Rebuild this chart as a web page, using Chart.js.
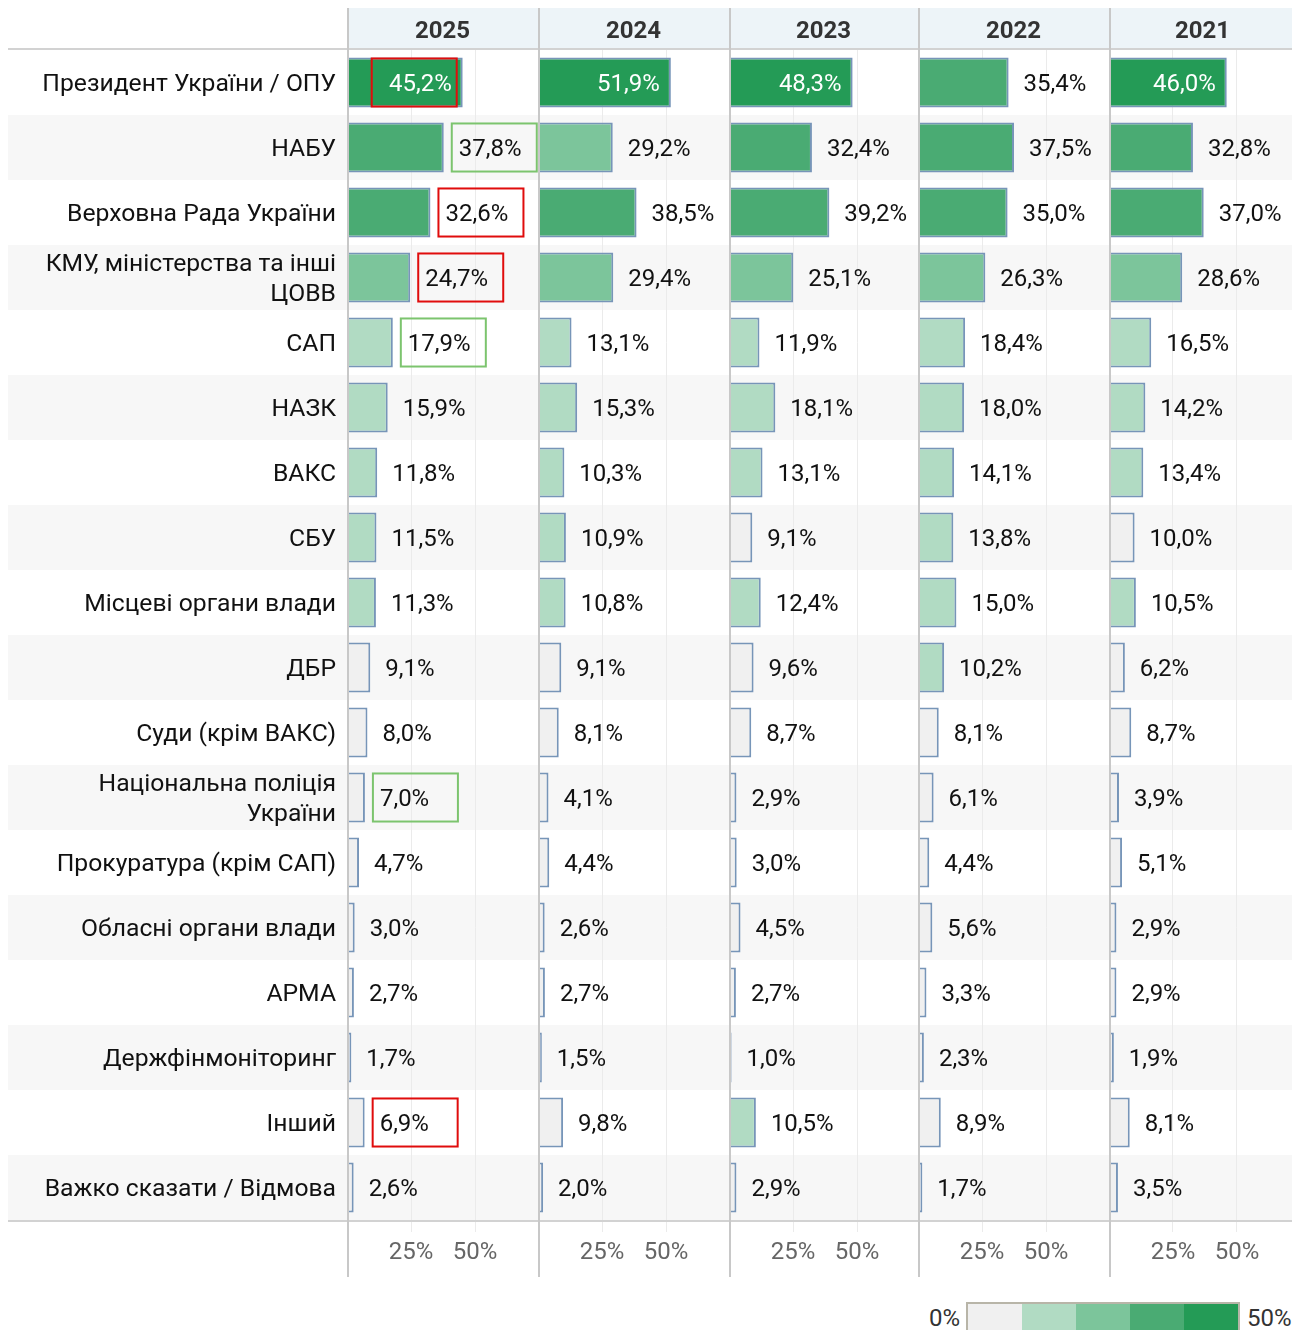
<!DOCTYPE html>
<html>
<head>
  <meta charset="utf-8">
  <title>Довіра до органів влади</title>
  <style>
    body {
      margin: 0;
      background: #fff;
      font-family: Roboto, "Noto Sans", sans-serif;
    }
    #wrap {
      position: relative;
      width: 1292px;
      height: 1330px;
      overflow: hidden;
    }
    .panel {
      position: absolute;
      top: 0;
    }
    .legend-text {
      position: absolute;
      font-size: 24px;
      color: #333;
      line-height: 30px;
    }
    #legendBar {
      position: absolute;
      left: 966px;
      top: 1302px;
      height: 40px;
      display: flex;
      border: 2px solid #b8b5a8;
    }
    #legendBar div {
      width: 54px;
      height: 100%;
    }
  </style>
  <script src="https://cdn.jsdelivr.net/npm/chart.js"></script>
</head>
<body>
  <div id="wrap">
    <div class="panel" style="left:0px"><canvas id="c0" width="538" height="1280"></canvas></div>
    <div class="panel" style="left:538px"><canvas id="c1" width="191" height="1280"></canvas></div>
    <div class="panel" style="left:729px"><canvas id="c2" width="189" height="1280"></canvas></div>
    <div class="panel" style="left:918px"><canvas id="c3" width="191" height="1280"></canvas></div>
    <div class="panel" style="left:1109px"><canvas id="c4" width="187" height="1280"></canvas></div>
    <div class="legend-text" id="legendMin" style="left:900px; width:60px; text-align:right; top:1303px;"></div>
    <div id="legendBar"></div>
    <div class="legend-text" id="legendMax" style="left:1247px; top:1303px;"></div>
  </div>

  <script>
    // Categories (rows)
    var categories = [
      'Президент України / ОПУ',
      'НАБУ',
      'Верховна Рада України',
      ['КМУ, міністерства та інші', 'ЦОВВ'],
      'САП',
      'НАЗК',
      'ВАКС',
      'СБУ',
      'Місцеві органи влади',
      'ДБР',
      'Суди (крім ВАКС)',
      ['Національна поліція', 'України'],
      'Прокуратура (крім САП)',
      'Обласні органи влади',
      'АРМА',
      'Держфінмоніторинг',
      'Інший',
      'Важко сказати / Відмова'
    ];

    var years = ['2025', '2024', '2023', '2022', '2021'];

    // Values in %, one array per year
    var values2025 = [45.2, 37.8, 32.6, 24.7, 17.9, 15.9, 11.8, 11.5, 11.3, 9.1, 8.0, 7.0, 4.7, 3.0, 2.7, 1.7, 6.9, 2.6];
    var values2024 = [51.9, 29.2, 38.5, 29.4, 13.1, 15.3, 10.3, 10.9, 10.8, 9.1, 8.1, 4.1, 4.4, 2.6, 2.7, 1.5, 9.8, 2.0];
    var values2023 = [48.3, 32.4, 39.2, 25.1, 11.9, 18.1, 13.1, 9.1, 12.4, 9.6, 8.7, 2.9, 3.0, 4.5, 2.7, 1.0, 10.5, 2.9];
    var values2022 = [35.4, 37.5, 35.0, 26.3, 18.4, 18.0, 14.1, 13.8, 15.0, 10.2, 8.1, 6.1, 4.4, 5.6, 3.3, 2.3, 8.9, 1.7];
    var values2021 = [46.0, 32.8, 37.0, 28.6, 16.5, 14.2, 13.4, 10.0, 10.5, 6.2, 8.7, 3.9, 5.1, 2.9, 2.9, 1.9, 8.1, 3.5];

    // Highlighted labels in 2025 (row indexes)
    var redBoxes2025 = [0, 2, 3, 16];
    var greenBoxes2025 = [1, 4, 11];

    // x axis ticks (%)
    var xTicks = [0, 25, 50];

    // Colour scale
    var legendLabels = ['0%', '50%'];
    var binLimits = [10, 20, 30, 40];
    var binColors = ['#f0f0f0', '#b1dbc3', '#7cc59b', '#4aab73', '#249b56'];

    Chart.defaults.font.family = 'Roboto, "Noto Sans", sans-serif';

    function colorFor(v) {
      for (var i = 0; i < binLimits.length; i++) {
        if (v <= binLimits[i]) return binColors[i];
      }
      return binColors[binColors.length - 1];
    }

    function fmt(v) {
      return v.toFixed(1).replace('.', ',') + '%';
    }

    var PX_PER_PCT = 2.56;

    // Draws stripes, header, value labels, boxes and separators.
    var panelDecor = {
      id: 'panelDecor',
      beforeDraw: function(chart, args, opts) {
        var ctx = chart.ctx, a = chart.chartArea;
        var x0 = opts.first ? 8 : 0;
        var n = categories.length;
        var rowH = (a.bottom - a.top) / n;
        ctx.save();
        ctx.fillStyle = '#f7f7f7';
        for (var i = 1; i < n; i += 2) {
          var yc = chart.scales.y.getPixelForValue(i);
          ctx.fillRect(x0, yc - rowH / 2, chart.width - x0, rowH);
        }
        // header
        ctx.fillStyle = '#edf4f8';
        ctx.fillRect(a.left, 8, a.right - a.left, 41);
        ctx.fillStyle = '#333';
        ctx.font = 'bold 24px Roboto, sans-serif';
        ctx.textAlign = 'center';
        ctx.textBaseline = 'middle';
        ctx.fillText(opts.title, (a.left + a.right) / 2, 32);
        ctx.restore();
      },
      afterDatasetsDraw: function(chart, args, opts) {
        var ctx = chart.ctx, a = chart.chartArea;
        var x0 = opts.first ? 8 : 0;
        var meta = chart.getDatasetMeta(0);
        var vals = chart.data.datasets[0].data;
        ctx.save();
        ctx.font = '24px Roboto, sans-serif';
        ctx.textBaseline = 'middle';
        meta.data.forEach(function(bar, i) {
          var v = vals[i];
          var top = bar.y - bar.height / 2;
          var boxL, inside = v >= 40;
          if (inside) {
            ctx.fillStyle = '#fff';
            ctx.textAlign = 'right';
            ctx.fillText(fmt(v), bar.x - 11, bar.y + 2);
            boxL = bar.x - 6 - 85;
          } else {
            ctx.fillStyle = '#111';
            ctx.textAlign = 'left';
            ctx.fillText(fmt(v), bar.x + 15, bar.y + 2);
            boxL = bar.x + 8;
          }
          var col = null;
          if (opts.red.indexOf(i) >= 0) col = '#e00c0c';
          if (opts.green.indexOf(i) >= 0) col = '#7cc46e';
          if (col) {
            ctx.strokeStyle = col;
            ctx.lineWidth = 2;
            ctx.strokeRect(boxL, top + 1, 85, bar.height - 2);
          }
        });
        // header and bottom lines
        ctx.strokeStyle = '#d2d2d2';
        ctx.lineWidth = 2;
        ctx.beginPath();
        ctx.moveTo(x0, 49);
        ctx.lineTo(chart.width, 49);
        ctx.moveTo(x0, a.bottom + 1);
        ctx.lineTo(chart.width, a.bottom + 1);
        ctx.stroke();
        // panel separator
        ctx.strokeStyle = '#c8c8c8';
        ctx.beginPath();
        ctx.moveTo(a.left + 1, 8);
        ctx.lineTo(a.left + 1, 1277);
        ctx.stroke();
        ctx.restore();
      }
    };

    function makePanel(canvasId, year, values, first, red, green) {
      var canvas = document.getElementById(canvasId);
      var plotW = first ? canvas.width - 347 : canvas.width;
      var yScale = {
        display: first,
        border: { display: false },
        grid: { display: false, drawTicks: false },
        ticks: {
          autoSkip: false,
          padding: 11,
          labelOffset: 2,
          color: '#111',
          font: { size: 24.7, lineHeight: 1.22 }
        }
      };
      if (first) {
        yScale.afterFit = function(scale) { scale.width = 347; };
      }
      return new Chart(canvas.getContext('2d'), {
        type: 'bar',
        data: {
          labels: categories,
          datasets: [{
            data: values,
            backgroundColor: values.map(colorFor),
            borderColor: '#7795b8',
            borderWidth: 2,
            barPercentage: 0.77,
            categoryPercentage: 1
          }]
        },
        options: {
          indexAxis: 'y',
          responsive: false,
          animation: false,
          layout: { padding: { top: 50, left: 0, right: 0, bottom: 0 } },
          plugins: {
            legend: { display: false },
            tooltip: { enabled: false },
            panelDecor: { title: year, first: first, red: red, green: green }
          },
          scales: {
            x: {
              min: 0,
              max: plotW / PX_PER_PCT,
              border: { display: false },
              grid: { color: '#ebebeb', lineWidth: 1, tickLength: 12, tickColor: '#ebebeb' },
              afterBuildTicks: function(scale) {
                scale.ticks = xTicks.map(function(v) { return { value: v }; });
              },
              ticks: {
                autoSkip: false,
                maxRotation: 0,
                padding: 7,
                color: '#666',
                font: { size: 24 },
                callback: function(v) { return v === 0 ? '' : v + '%'; }
              },
              afterFit: function(scale) {
                scale.height = 60;
                scale.paddingLeft = 0;
                scale.paddingRight = 0;
              }
            },
            y: yScale
          }
        },
        plugins: [panelDecor]
      });
    }

    var allValues = [values2025, values2024, values2023, values2022, values2021];
    for (var k = 0; k < years.length; k++) {
      makePanel('c' + k, years[k], allValues[k], k === 0,
        k === 0 ? redBoxes2025 : [], k === 0 ? greenBoxes2025 : []);
    }

    // colour legend
    document.getElementById('legendMin').textContent = legendLabels[0];
    document.getElementById('legendMax').textContent = legendLabels[1];
    var bar = document.getElementById('legendBar');
    binColors.forEach(function(c) {
      var d = document.createElement('div');
      d.style.background = c;
      bar.appendChild(d);
    });
  </script>
</body>
</html>
